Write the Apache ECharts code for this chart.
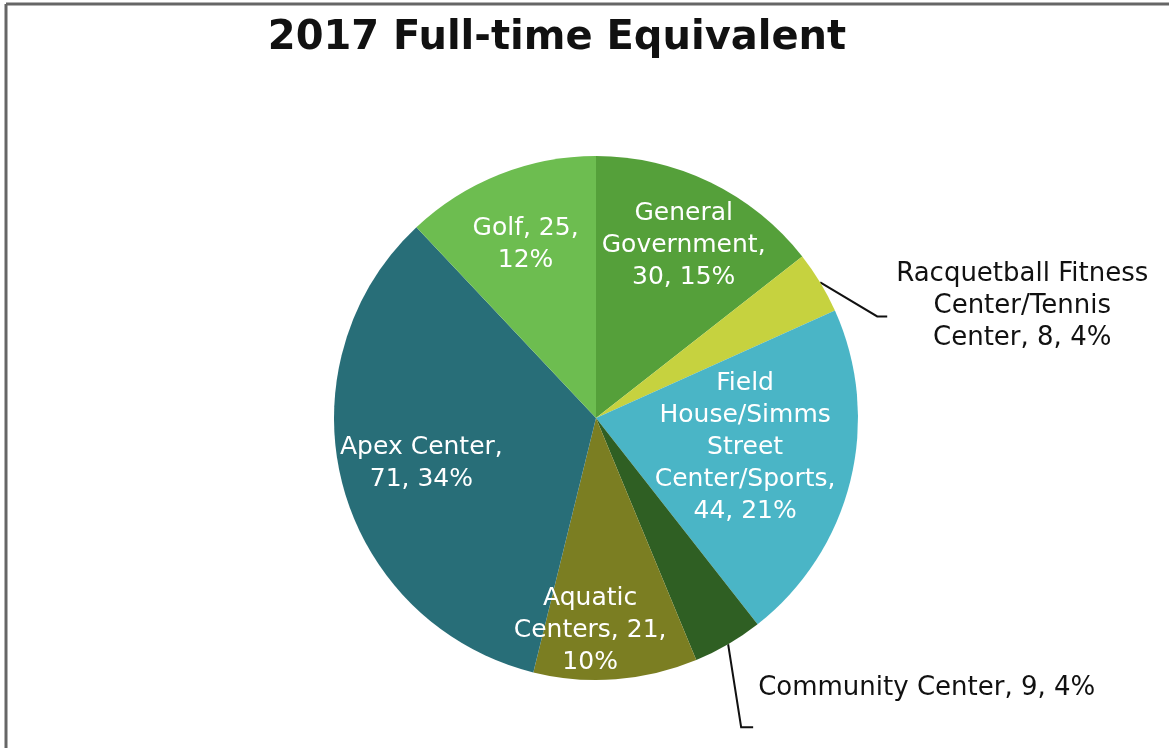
<!DOCTYPE html>
<html>
<head>
<meta charset="utf-8">
<script src="https://cdn.jsdelivr.net/npm/echarts@6/dist/echarts.min.js"></script>
<style>
html,body{margin:0;padding:0;background:#fff;}
#main{width:1169px;height:748px;}
</style>
</head>
<body>
<div id="main"></div>
<script>
// ---- data ----
var categories = ['General Government', 'Racquetball Fitness Center/Tennis Center', 'Field House/Simms Street Center/Sports', 'Community Center', 'Aquatic Centers', 'Apex Center', 'Golf'];
var fteValues = [30, 8, 44, 9, 21, 71, 25];
var percentLabels = ['15%', '4%', '21%', '4%', '10%', '34%', '12%'];

// ---- presentation ----
var colors = ['#55a03a', '#c6d23f', '#4ab5c6', '#2f5f23', '#7b7e22', '#286e78', '#6dbd50'];
var labelTemplates = [
  'General\nGovernment,\n{c}, {p}',
  'Racquetball Fitness\nCenter/Tennis\nCenter, {c}, {p}',
  'Field\nHouse/Simms\nStreet\nCenter/Sports,\n{c}, {p}',
  'Community Center, {c}, {p}',
  'Aquatic\nCenters, {c},\n{p}',
  'Apex Center,\n{c}, {p}',
  'Golf, {c},\n{p}'
];
var insideOffsets = [[29, -52], null, [19, -3], null, [-16, 79], [-45, 11], [-21, -49]];
var outsideIdx = {1: true, 3: true};

var seriesData = categories.map(function (n, i) {
  var item = {
    name: n,
    value: fteValues[i],
    itemStyle: { color: colors[i] }
  };
  if (outsideIdx[i]) {
    item.label = {
      position: 'outside', color: '#111', fontSize: 26, lineHeight: 32, align: 'center'
    };
    item.labelLine = { show: true, lineStyle: { color: '#111', width: 2 } };
  } else {
    item.label = { position: 'inside', offset: insideOffsets[i], color: '#fff', fontSize: 25, lineHeight: 32, align: 'center' };
    item.labelLine = { show: false };
  }
  return item;
});

var chart = echarts.init(document.getElementById('main'), null, { renderer: 'canvas' });
chart.setOption({
  backgroundColor: '#fff',
  animation: false,
  title: {
    text: '2017 Full-time Equivalent',
    left: 552, top: 14, textAlign: 'center',
    textStyle: { fontFamily: 'DejaVu Sans', fontWeight: 'bold', fontSize: 40, color: '#111' }
  },
  graphic: [
    { type: 'line', shape: { x1: 6, y1: 4, x2: 1169, y2: 4 }, style: { stroke: '#666', lineWidth: 3 } },
    { type: 'line', shape: { x1: 6, y1: 4, x2: 6, y2: 748 }, style: { stroke: '#666', lineWidth: 3 } }
  ],
  series: [{
    type: 'pie',
    center: [596, 418],
    radius: 262,
    startAngle: 90,
    clockwise: true,
    avoidLabelOverlap: false,
    label: {
      fontFamily: 'DejaVu Sans',
      formatter: function (p) {
        return labelTemplates[p.dataIndex].replace('{c}', p.value).replace('{p}', percentLabels[p.dataIndex]);
      }
    },
    labelLine: { length: 10, length2: 10 },
    labelLayout: function (params) {
      var i = params.dataIndex;
      if (!outsideIdx[i] || !params.labelLinePoints) return {};
      var p0 = params.labelLinePoints[0];
      if (i === 1) {
        var e1 = [p0[0] + 57, p0[1] + 34];
        var e2 = [e1[0] + 10, e1[1]];
        return { x: p0[0] + 202, y: p0[1] + 24, align: 'center', verticalAlign: 'middle',
          labelLinePoints: [p0, e1, e2] };
      } else {
        var f1 = [p0[0] + 13, p0[1] + 83];
        var f2 = [f1[0] + 12, f1[1]];
        return { x: p0[0] + 30, y: p0[1] + 44, align: 'left', verticalAlign: 'middle',
          labelLinePoints: [p0, f1, f2] };
      }
    },
    data: seriesData
  }]
});
</script>
</body>
</html>
